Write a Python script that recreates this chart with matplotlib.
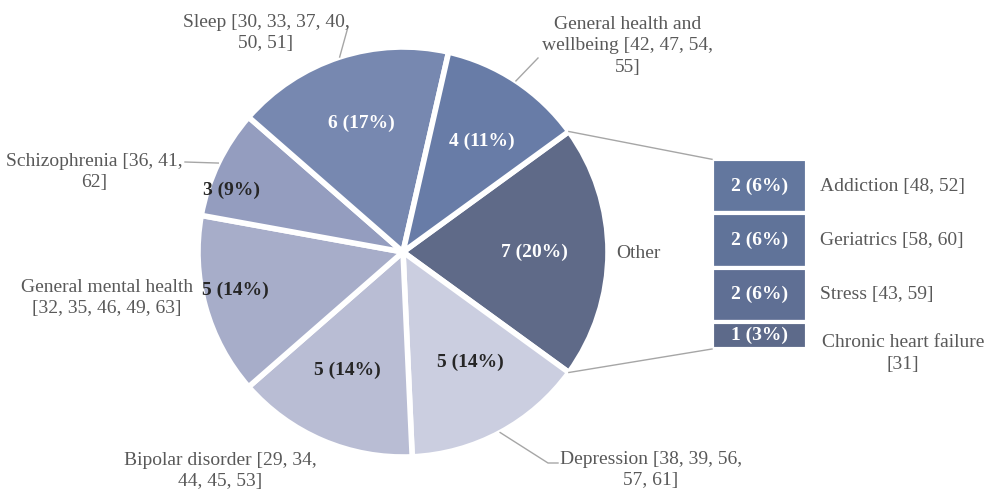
import numpy as np
import matplotlib
matplotlib.use("Agg")
import matplotlib.pyplot as plt

# ---- data ----
pie_labels = ["Other",
              "Depression [38, 39, 56,\n57, 61]",
              "Bipolar disorder [29, 34,\n44, 45, 53]",
              "General mental health\n[32, 35, 46, 49, 63]",
              "Schizophrenia [36, 41,\n62]",
              "Sleep [30, 33, 37, 40,\n50, 51]",
              "General health and\nwellbeing [42, 47, 54,\n55]"]
pie_counts = [7, 5, 5, 5, 3, 6, 4]

bar_labels = ["Addiction [48, 52]", "Geriatrics [58, 60]", "Stress [43, 59]",
              "Chronic heart failure\n[31]"]
bar_counts = [2, 2, 2, 1]

total = sum(pie_counts)

# ---- style ----
plt.rcParams['font.family'] = ['Liberation Serif', 'DejaVu Serif']
pie_colors = ["#5f6a88", "#cbcee0", "#b9bdd4", "#a7adc9", "#949dbf", "#7788b0", "#687ca7"]
bar_colors = ["#63779e", "#607399", "#5f6f94", "#5d6a8a"]
txt_gray = "#595959"
line_gray = "#a6a6a6"
FS = 14
LS = 1.35

H = 494
cx, cy, R = 403, H - 252, 205

fig = plt.figure(figsize=(9.84, 4.94), dpi=100)
ax = fig.add_axes([0, 0, 1, 1])

wedges, _ = ax.pie(pie_counts, center=(cx, cy), radius=R, startangle=36,
                   counterclock=False, colors=pie_colors,
                   wedgeprops=dict(edgecolor="white", linewidth=4))
ax.set_xlim(0, 984)
ax.set_ylim(0, H)
ax.axis("off")

# value labels inside the pie
lbl_r = [0.64, 0.63, 0.64, 0.84, 0.89, 0.66, 0.66]
lbl_da = [0, 3, -2, -2.5, 6, 0, -2]
lbl_white = [True, False, False, False, False, True, True]
for w, n, fr, da, wt in zip(wedges, pie_counts, lbl_r, lbl_da, lbl_white):
    mid = np.deg2rad((w.theta1 + w.theta2) / 2 + da)
    ax.text(cx + fr * R * np.cos(mid), cy + fr * R * np.sin(mid),
            f"{n} ({n / total:.0%})", ha="center", va="center",
            fontsize=FS, fontweight="bold",
            color="white" if wt else "#262626")

# outside labels (pixel positions, y from top) and leader end points
out_pos = [(638, 253), (651, 470), (220, 471), (107, 298), (94, 172), (266, 33), (628, 46)]
leader_end = [None, [(548, 463), (558, 463)], None, None, [(185, 162)], [(348, 27)], [(538, 58)]]
for w, lab, (px, py), le in zip(wedges, pie_labels, out_pos, leader_end):
    ax.text(px, H - py, lab, ha="center", va="center", fontsize=FS,
            color=txt_gray, linespacing=LS)
    if le:
        mid = np.deg2rad((w.theta1 + w.theta2) / 2)
        xs = [cx + R * np.cos(mid)] + [p[0] for p in le]
        ys = [cy + R * np.sin(mid)] + [H - p[1] for p in le]
        ax.plot(xs, ys, color=line_gray, lw=1)

# stacked bar for "Other"
bx0, bw = 712, 95
unit = 27.1
bar_bottom = H - 349
bottoms = np.cumsum([0] + bar_counts[::-1][:-1])[::-1]
for n, b, c, lab in zip(bar_counts, bottoms, bar_colors, bar_labels):
    y0 = bar_bottom + b * unit
    ax.bar(bx0 + bw / 2, n * unit, width=bw, bottom=y0, color=c,
           edgecolor="white", linewidth=3)
    ax.text(bx0 + bw / 2, y0 + n * unit / 2, f"{n} ({n / total:.0%})",
            ha="center", va="center", fontsize=FS, fontweight="bold", color="white")
    if "\n" in lab:
        ax.text(903, y0 + n * unit / 2 - 18, lab, ha="center", va="center",
                fontsize=FS, color=txt_gray, linespacing=LS)
    else:
        ax.text(820, y0 + n * unit / 2, lab, ha="left", va="center",
                fontsize=FS, color=txt_gray)

# connector lines between pie and bar
bar_top = bar_bottom + sum(bar_counts) * unit
t1 = np.deg2rad(wedges[0].theta1)
t2 = np.deg2rad(wedges[0].theta2)
for t, yb in ((max(t1, t2), bar_top), (min(t1, t2), bar_bottom)):
    ax.plot([cx + R * np.cos(t), bx0], [cy + R * np.sin(t), yb],
            color=line_gray, lw=1)

fig.savefig("out.png", dpi=100)
